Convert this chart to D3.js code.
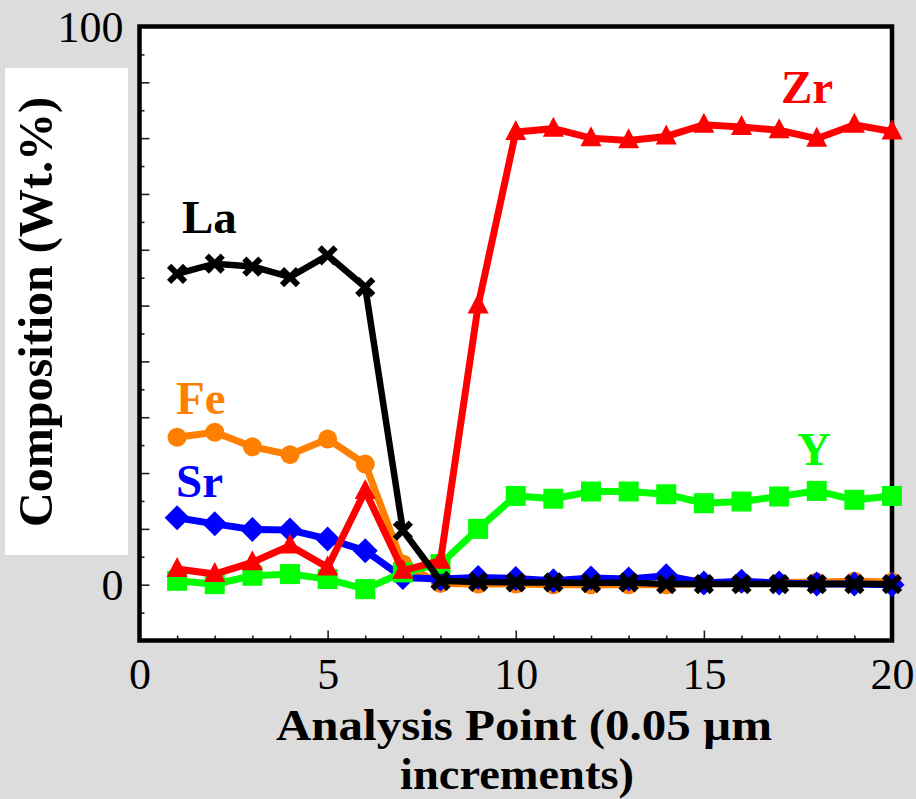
<!DOCTYPE html>
<html>
<head>
<meta charset="utf-8">
<script src="https://cdn.jsdelivr.net/npm/d3@7"></script>
<style>
  html, body { margin: 0; padding: 0; background: #dcdcdc; }
  svg { display: block; }
</style>
</head>
<body>
<div id="chart"></div>
<script>
// ---- data ----
const points = d3.range(1, 21);
const La = [55.7, 57.5, 57.0, 55.1, 59.0, 53.3, 9.7, 0.7, 0.5, 0.4, 0.4, 0.3, 0.4, 0.1, 0.1, 0.1, 0.1, 0.1, 0.1, 0.1];
const Fe = [26.4, 27.3, 24.7, 23.3, 26.1, 21.6, 3.7, 0.2, 0.1, 0.1, 0.0, 0.0, 0.0, 0.0, 0.2, 0.3, 0.4, 0.5, 0.6, 0.5];
const Sr = [12.0, 10.9, 9.9, 9.8, 8.2, 6.1, 1.3, 1.0, 1.3, 1.1, 0.7, 1.2, 1.0, 1.6, 0.3, 0.6, 0.3, 0.1, 0.1, 0.0];
const Zr = [2.8, 1.9, 4.0, 7.0, 3.1, 16.8, 2.5, 4.3, 50.0, 81.1, 81.7, 80.0, 79.6, 80.3, 82.4, 82.0, 81.4, 79.9, 82.4, 81.2];
const Yv = [0.7, 0.1, 1.6, 1.9, 1.0, -0.8, 2.2, 3.7, 10.0, 15.9, 15.4, 16.7, 16.7, 16.2, 14.6, 14.9, 15.8, 16.8, 15.2, 15.9];
const xTickLabels = [0, 5, 10, 15, 20];
const yTickLabels = [0, 10, 20, 30, 40, 50, 60, 70, 80, 90, 100];
const seriesNames = ["Fe", "Sr", "Y", "Zr", "La"];

const W = 916, H = 799;
const svg = d3.select("#chart").append("svg").attr("width", W).attr("height", H);
svg.append("rect").attr("width", W).attr("height", H).attr("fill", "#dcdcdc");

const x = d3.scaleLinear().domain([0, 20]).range([139.5, 892]);
const y = d3.scaleLinear().domain([-10, 100]).range([640.5, 26.5]);

const serif = "'Liberation Serif', 'Times New Roman', serif";

// plot area
svg.append("rect")
  .attr("x", x(0)).attr("y", y(100))
  .attr("width", x(20) - x(0)).attr("height", y(-10) - y(100))
  .attr("fill", "#fff");

// ticks (inward)
const yMinor = d3.range(-5, 100, 10);
const yMajor = d3.range(0, 100, 10);
const g = svg.append("g");
function drawAxis(axis, tr) {
  const a = g.append("g").attr("transform", tr).call(axis);
  a.select(".domain").remove();
  a.selectAll("line").attr("stroke", "#222").attr("stroke-width", 1.6);
  a.selectAll("text").remove();
}
drawAxis(d3.axisLeft(y).tickValues(yMinor).tickSize(-5), `translate(${x(0)},0)`);
drawAxis(d3.axisLeft(y).tickValues(yMajor).tickSize(-10), `translate(${x(0)},0)`);
drawAxis(d3.axisBottom(x).tickValues(points.filter(d => d % 5 !== 0)).tickSize(-5), `translate(0,${y(-10)})`);
drawAxis(d3.axisBottom(x).tickValues([5, 10, 15]).tickSize(-10), `translate(0,${y(-10)})`);

// tick labels
const yl = svg.append("g").attr("transform", `translate(${x(0)},0)`)
  .call(d3.axisLeft(y).tickValues(yTickLabels).tickSize(0).tickPadding(16).tickFormat(d3.format("d")));
yl.select(".domain").remove();
yl.selectAll("text").attr("font-family", serif).attr("font-size", 44).attr("fill", "#000").attr("dy", "0.33em");

const xl = svg.append("g").attr("transform", `translate(0,${y(-10)})`)
  .call(d3.axisBottom(x).tickValues(xTickLabels).tickSize(0).tickPadding(17).tickFormat(d3.format("d")));
xl.select(".domain").remove();
xl.selectAll("text").attr("font-family", serif).attr("font-size", 44).attr("fill", "#000");

// frame
svg.append("rect")
  .attr("x", x(0)).attr("y", y(100))
  .attr("width", x(20) - x(0)).attr("height", y(-10) - y(100))
  .attr("fill", "none").attr("stroke", "#000").attr("stroke-width", 4.5);

// white box behind y title (covers tick labels)
svg.append("rect").attr("x", 5).attr("y", 68).attr("width", 123).attr("height", 487).attr("fill", "#fff");

// y title
svg.append("text")
  .attr("transform", "translate(52,312) rotate(-90)")
  .attr("text-anchor", "middle")
  .attr("font-family", serif).attr("font-weight", "bold").attr("font-size", 48)
  .attr("textLength", 430).attr("lengthAdjust", "spacingAndGlyphs")
  .text("Composition (Wt.%)");

// x title
svg.append("text").attr("x", 524).attr("y", 740)
  .attr("text-anchor", "middle")
  .attr("font-family", serif).attr("font-weight", "bold").attr("font-size", 45)
  .attr("textLength", 496).attr("lengthAdjust", "spacingAndGlyphs")
  .text("Analysis Point (0.05 \u00b5m");
svg.append("text").attr("x", 517).attr("y", 789)
  .attr("text-anchor", "middle")
  .attr("font-family", serif).attr("font-weight", "bold").attr("font-size", 45)
  .attr("textLength", 234).attr("lengthAdjust", "spacingAndGlyphs")
  .text("increments)");

// series
const series = {
  Fe: { values: Fe, color: "#ff8000", shape: "circle", lw: 7 },
  Sr: { values: Sr, color: "#0000ff", shape: "diamond", lw: 7 },
  Y:  { values: Yv, color: "#00ff00", shape: "square", lw: 7 },
  Zr: { values: Zr, color: "#ff0000", shape: "triangle", lw: 7 },
  La: { values: La, color: "#000000", shape: "cross", lw: 6.5 }
};

const line = d3.line().x(d => x(d[0])).y(d => y(d[1]));

function markerPath(shape) {
  switch (shape) {
    case "circle": return d3.symbol(d3.symbolCircle, Math.PI * 9.5 * 9.5)();
    case "diamond": return "M0,-12.5L12.5,0L0,12.5L-12.5,0Z";
    case "square": return "M-10,-10H10V10H-10Z";
    case "triangle": return "M0,-12L10.5,8L-10.5,8Z";
    case "cross": return "M-8,-8L8,8M-8,8L8,-8";
  }
}

seriesNames.forEach(name => {
  const s = series[name];
  const data = points.map((p, i) => [p, s.values[i]]);
  const sg = svg.append("g");
  sg.append("path").datum(data).attr("d", line)
    .attr("fill", "none").attr("stroke", s.color).attr("stroke-width", s.lw)
    .attr("stroke-linejoin", "miter").attr("stroke-miterlimit", 3);
  const m = sg.selectAll("path.m").data(data).enter().append("path")
    .attr("class", "m")
    .attr("transform", d => `translate(${x(d[0])},${y(d[1])})`)
    .attr("d", markerPath(s.shape));
  if (s.shape === "cross") {
    m.attr("fill", "none").attr("stroke", s.color).attr("stroke-width", 6);
  } else {
    m.attr("fill", s.color);
  }
});

// in-plot series labels
const labels = [
  { t: "La", x: 182, y: 233, c: "#000000" },
  { t: "Fe", x: 176, y: 414, c: "#ff8000" },
  { t: "Sr", x: 176, y: 497, c: "#0000ff" },
  { t: "Zr", x: 781, y: 103, c: "#ff0000" },
  { t: "Y",  x: 797, y: 465, c: "#00ff00" }
];
svg.selectAll("text.lab").data(labels).enter().append("text")
  .attr("class", "lab")
  .attr("x", d => d.x).attr("y", d => d.y)
  .attr("font-family", serif).attr("font-weight", "bold").attr("font-size", 47)
  .attr("fill", d => d.c)
  .text(d => d.t);
</script>
</body>
</html>
